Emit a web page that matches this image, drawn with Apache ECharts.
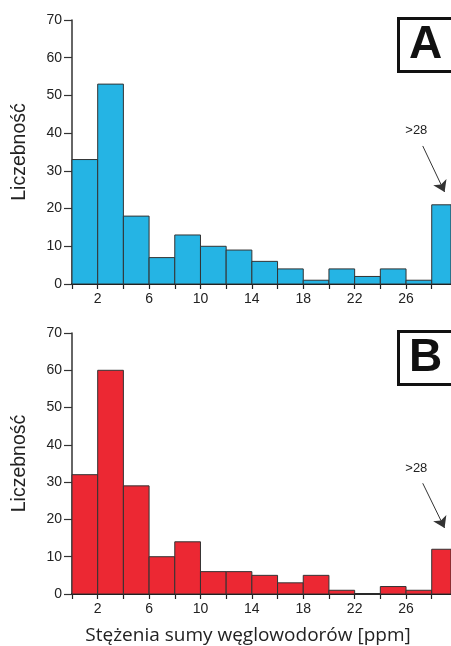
<!DOCTYPE html>
<html lang="pl">
  <head>
    <meta charset="UTF-8" />
    <title>Histogram - stężenia węglowodorów</title>
    <script src="https://cdn.jsdelivr.net/npm/echarts@6/dist/echarts.min.js"></script>
    <style>
      html, body { margin: 0; padding: 0; background: #fff; }
      #chart { width: 451px; height: 646px; }
    </style>
  </head>
  <body>
    <div id="chart"></div>
  </body>
</html>
<script>
  // dolne granice przedziałów (szerokość 2 ppm), ostatni = ">28"
  const binStarts = [0, 2, 4, 6, 8, 10, 12, 14, 16, 18, 20, 22, 24, 26, 28];
  const binWidth = 2;
  const countsA = [33, 53, 18, 7, 13, 10, 9, 6, 4, 1, 4, 2, 4, 1, 21];
  const countsB = [32, 60, 29, 10, 14, 6, 6, 5, 3, 5, 1, 0, 2, 1, 12];
  const xLabels = [2, 6, 10, 14, 18, 22, 26];

  const font = "Liberation Sans, Arial, sans-serif";

  function histData(counts) {
    return binStarts.map((s, i) => [s, s + binWidth, counts[i]]);
  }

  function renderBar(params, api) {
    const p0 = api.coord([api.value(0), api.value(2)]);
    const p1 = api.coord([api.value(1), 0]);
    const shape = echarts.graphic.clipRectByRect(
      { x: p0[0], y: p0[1], width: p1[0] - p0[0], height: p1[1] - p0[1] },
      {
        x: params.coordSys.x,
        y: params.coordSys.y - 2,
        width: params.coordSys.width,
        height: params.coordSys.height + 2,
      }
    );
    if (!shape) return;
    return { type: "rect", shape: shape, style: api.style() };
  }

  function xAxis(gridIndex, withName) {
    return {
      type: "value",
      gridIndex: gridIndex,
      min: 0,
      max: 29.5,
      interval: 2,
      splitLine: { show: false },
      axisLine: { lineStyle: { color: "#111", width: 2 } },
      axisTick: { length: 5, lineStyle: { color: "#222", width: 1.2 } },
      axisLabel: {
        color: "#222",
        fontSize: 14,
        fontFamily: font,
        margin: 8,
        showMaxLabel: false,
        formatter: (v) => (xLabels.indexOf(v) >= 0 ? String(v) : ""),
      },
      name: withName ? "Stężenia sumy węglowodorów [ppm]" : "",
      nameLocation: "middle",
      nameGap: 32,
      nameTextStyle: {
        color: "#222",
        fontSize: 19,
        fontFamily: "Open Sans, sans-serif",
        padding: [0, 27, 0, 0],
      },
    };
  }

  function yAxis(gridIndex) {
    return {
      type: "value",
      gridIndex: gridIndex,
      min: 0,
      max: 70,
      interval: 10,
      splitLine: { show: false },
      axisLine: { show: true, lineStyle: { color: "#333", width: 1.5 } },
      axisTick: { show: true, length: 8, lineStyle: { color: "#333", width: 1.2 } },
      axisLabel: { color: "#222", fontSize: 14, fontFamily: font, margin: 10 },
      name: "Liczebność",
      nameLocation: "middle",
      nameRotate: 90,
      nameGap: 42,
      nameTextStyle: { color: "#222", fontSize: 19.5, fontFamily: font },
    };
  }

  function histSeries(index, counts, color, arrow, labelAt) {
    return {
      type: "custom",
      xAxisIndex: index,
      yAxisIndex: index,
      renderItem: renderBar,
      data: histData(counts),
      itemStyle: { color: color, borderColor: "#333", borderWidth: 1 },
      encode: { x: [0, 1], y: 2 },
      markLine: {
        silent: true,
        symbol: ["none", "arrow"],
        symbolSize: 11,
        label: { show: false },
        lineStyle: { color: "#333", width: 1, type: "solid" },
        data: [[{ coord: arrow[0] }, { coord: arrow[1] }]],
      },
      markPoint: {
        silent: true,
        symbol: "circle",
        symbolSize: 0,
        label: {
          show: true,
          formatter: ">28",
          color: "#222",
          fontSize: 13,
          fontFamily: font,
        },
        data: [{ coord: labelAt }],
      },
    };
  }

  function boxLabel(letter, top) {
    return {
      type: "group",
      left: 397,
      top: top,
      children: [
        {
          type: "rect",
          shape: { x: 0, y: 0, width: 55, height: 53 },
          style: { fill: "#fff", stroke: "#111", lineWidth: 3 },
        },
        {
          type: "text",
          x: 27,
          y: 27,
          style: {
            text: letter,
            fill: "#111",
            font: "bold 46px " + font,
            align: "center",
            verticalAlign: "middle",
          },
        },
      ],
    };
  }

  const chart = echarts.init(document.getElementById("chart"));
  const option = {
    animation: false,
    grid: [
      { left: 72, right: 0, top: 20, height: 264 },
      { left: 72, right: 0, top: 333, height: 264 },
    ],
    xAxis: [xAxis(0, false), xAxis(1, true)],
    yAxis: [yAxis(0), yAxis(1)],
    series: [
      histSeries(0, countsA, "#25b4e4", [[27.3, 36.6], [29.0, 24.4]], [26.8, 40.8]),
      histSeries(1, countsB, "#ec2833", [[27.3, 29.7], [29.0, 17.7]], [26.8, 33.7]),
    ],
    graphic: [boxLabel("A", 17), boxLabel("B", 330)],
  };
  chart.setOption(option);
</script>
